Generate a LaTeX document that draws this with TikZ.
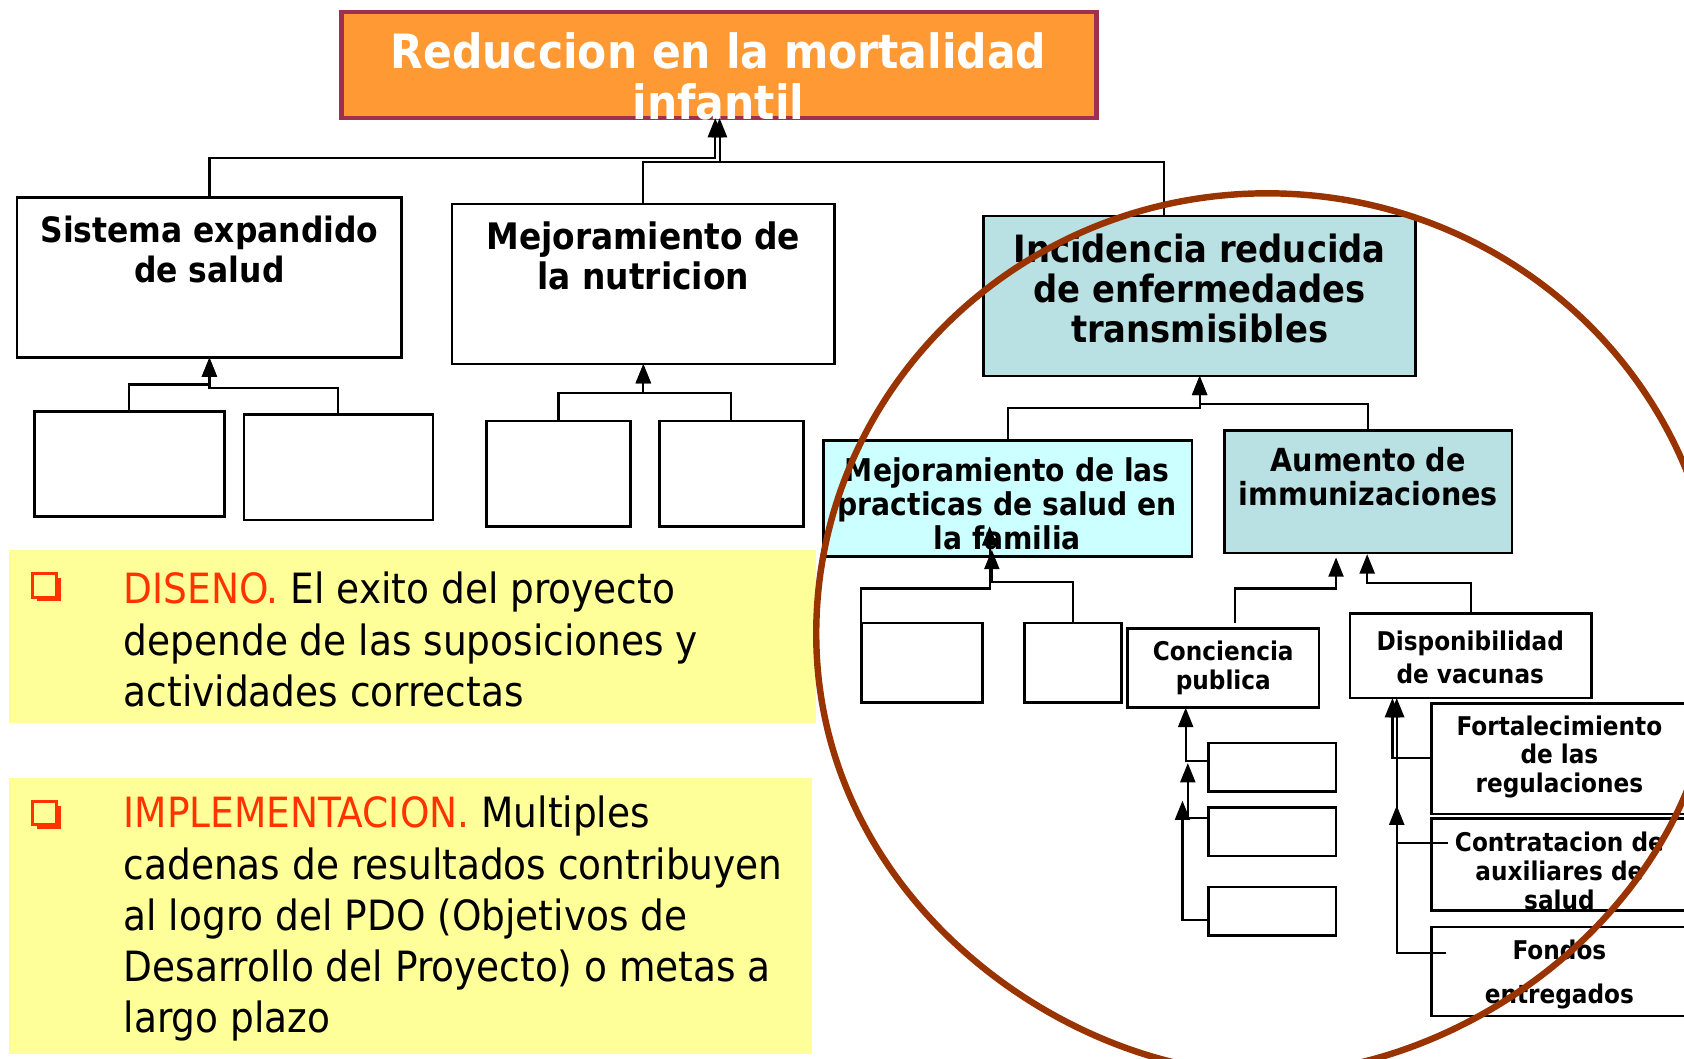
\documentclass[tikz,border=0pt]{standalone}
\usepackage{fontspec}
\setmainfont{DejaVu Sans Condensed}
\usetikzlibrary{arrows.meta,calc,shadows}
\definecolor{titfill}{HTML}{FF9933}
\definecolor{titbord}{HTML}{9E3050}
\definecolor{teal}{HTML}{B9E0E3}
\definecolor{cyanb}{HTML}{CCFFFF}
\definecolor{yel}{HTML}{FFFF99}
\definecolor{circ}{HTML}{993300}
\definecolor{redt}{HTML}{FF3300}
\newcommand\bx[6]{\node[box,#6,minimum width={(#4-#2)*1pt},minimum height={(#5-#3)*1pt}] (#1) at (#2,#3) {};}
\begin{document}
\begin{tikzpicture}[x=1pt,y=-1pt,
  box/.style={draw=black, line width=2.4pt, inner sep=0pt, outer sep=0pt, anchor=north west},
  arr/.style={draw=black, line width=2pt, -{Triangle[length=18pt,width=14pt]}},
  ln/.style={draw=black, line width=2pt},
  lbl/.style={align=center, inner sep=0pt, text=black},
  bigt/.style={font=\bfseries\fontsize{32.5}{37}\selectfont},
  midt/.style={font=\bfseries\fontsize{29.2}{32}\selectfont},
  bullet/.style={draw=redt, fill=yel, line width=2.8pt, minimum size=22pt, inner sep=0pt,
     drop shadow={shadow xshift=4pt, shadow yshift=-4pt, fill=redt, opacity=1}},
  yt/.style={align=left, inner sep=0pt, anchor=west, font=\fontsize{38.8}{47.7}\selectfont}]
\useasboundingbox (0,0) rectangle (1568,986);
\clip (0,0) rectangle (1568,986);
\fill[white] (0,0) rectangle (1568,986);
% yellow panels
\fill[yel] (8,512) rectangle (760,673);
\fill[yel] (8,724) rectangle (756,981);
\node[bullet] (b1) at (41.5,545) {};
\node[bullet] (b2) at (41.5,757) {};
\node[yt] (y1) at (115,595.5) {\textcolor{redt}{DISENO.} El exito del proyecto\\depende de las suposiciones y\\actividades correctas};
\node[yt] (y2) at (115,855.5) {\textcolor{redt}{IMPLEMENTACION.} Multiples\\cadenas de resultados contribuyen\\al logro del PDO (Objetivos de\\Desarrollo del Proyecto) o metas a\\largo plazo};
% boxes
\bx{tit}{318}{11}{1021}{110}{fill=titfill, draw=titbord, line width=4pt}
\bx{sis}{16}{184}{374}{333}{}
\bx{nut}{421}{190}{777}{339}{}
\bx{inc}{916}{201}{1318}{350}{fill=teal}
\bx{s1}{32}{383}{209}{481}{}
\bx{s2}{227}{386}{403}{484}{}
\bx{n1}{453}{392}{587}{490}{}
\bx{n2}{614}{392}{748}{490}{}
\bx{mp}{767}{410}{1110}{518}{fill=cyanb}
\bx{au}{1140}{401}{1408}{515}{fill=teal}
\bx{p1}{802}{580}{915}{654}{}
\bx{p2}{954}{580}{1044}{654}{}
\bx{cp}{1050}{585}{1228}{659}{}
\bx{dv}{1257}{571}{1482}{650}{}
\bx{c1}{1125}{692}{1244}{737}{}
\bx{c2}{1125}{752}{1244}{797}{}
\bx{c3}{1125}{826}{1244}{871}{}
\bx{f1}{1333}{655}{1575}{758}{}
\bx{f2}{1333}{762}{1575}{848}{}
\bx{f3}{1333}{863}{1575}{946}{}
% texts
\node[lbl, text=white, font=\bfseries\fontsize{44}{48}\selectfont] (tit-t) at (669,71) {Reduccion en la mortalidad\\infantil};
\node[lbl, bigt] (sis-t) at (195,232.5) {Sistema expandido\\de salud};
\node[lbl, font=\bfseries\fontsize{34}{37}\selectfont] (nut-t) at (599,238.5) {Mejoramiento de\\la nutricion};
\node[lbl, font=\bfseries\fontsize{35}{37.5}\selectfont] (inc-t) at (1117,268.5) {Incidencia reducida\\de enfermedades\\transmisibles};
\node[lbl, midt] (mp-t) at (938,469) {Mejoramiento de las\\practicas de salud en\\la familia};
\node[lbl, font=\bfseries\fontsize{29.6}{32}\selectfont] (au-t) at (1274,444) {Aumento de\\immunizaciones};
\node[lbl, font=\bfseries\fontsize{24}{27}\selectfont] (cp-t) at (1139,621.5) {Conciencia\\publica};
\node[lbl, font=\bfseries\fontsize{24}{30}\selectfont] (dv-t) at (1369,612) {Disponibilidad\\de vacunas};
\node[lbl, font=\bfseries\fontsize{24}{26.5}\selectfont] (f1-t) at (1452,704.5) {Fortalecimiento\\de las\\regulaciones};
\node[lbl, font=\bfseries\fontsize{24}{27}\selectfont] (f2-t) at (1452,811) {Contratacion de\\auxiliares de\\salud};
\node[lbl, font=\bfseries\fontsize{24}{41}\selectfont] (f3-t) at (1452,907.5) {Fondos\\entregados};
% connectors to title
\coordinate (j1) at (666,147);
\coordinate (j2) at (670,151);
\draw[arr] (sis.north) |- (j1) -- (j1 |- tit.south);
\draw[arr] (nut.north) |- (j2) -- (j2 |- tit.south);
\draw[ln] (j2) -| ($(inc.north)+(-33,0)$);
% level 2
\draw[arr] (s1.north) |- ($(sis.south)+(0,25)$) -- (sis.south);
\draw[arr] (s2.north) |- ($(sis.south)+(0,28)$) -- (sis.south);
\draw[arr] (n1.north) |- ($(nut.south)+(0,27)$) -- (nut.south);
\draw[arr] (n2.north) |- ($(nut.south)+(0,27)$) -- (nut.south);
\draw[arr] (mp.north) |- ($(inc.south)+(0,30)$) -- (inc.south);
\draw[arr] (au.north) |- ($(inc.south)+(0,26)$) -- (inc.south);
% practicas children
\draw[arr] (p1.north west) |- ($(mp.south)+(-17,30)$) -- ($(mp.south)+(-17,-28)$);
\draw[arr] (p2.north) |- ($(mp.south)+(-15,24)$) -- ($(mp.south)+(-15,-6)$);
% aumento children
\draw[arr] ($(cp.north)+(11,-5)$) |- ($(au.south)+(-30,33)$) -- ($(au.south)+(-30,4)$);
\draw[arr] (dv.north) |- ($(au.south)+(-1,28)$) -- ($(au.south)+(-1,1)$);
% conciencia children
\draw[arr] ($(c1.west)+(2,-6)$) -| ($(cp.south)+(-35,0)$);
\draw[arr] ($(c2.west)+(2,-13)$) -| ($(c1.west)+(-19,-4)$);
\draw[arr] (c3.west |- 0,857) -| ($(c1.west)+(-24,31)$);
% disponibilidad children
\draw[arr] ($(f1.west)+(0,-1)$) -| ($(dv.south)+(-73,0)$);
\draw[arr] ($(f2.west)+(15,-20)$) -| ($(dv.south)+(-69,0)$);
\draw[arr] ($(f3.west)+(13,-17.5)$) -| ($(dv.south)+(-69,100)$);
% circle
\draw[circ, line width=6pt] (760,590) .. controls (760,363.6) and (948,180) .. (1180,180)
  .. controls (1412,180) and (1600,363.6) .. (1600,590)
  .. controls (1600,836) and (1369,1000) .. (1180,1000)
  .. controls (991,1000) and (760,836) .. (760,590) -- cycle;
\end{tikzpicture}
\end{document}
